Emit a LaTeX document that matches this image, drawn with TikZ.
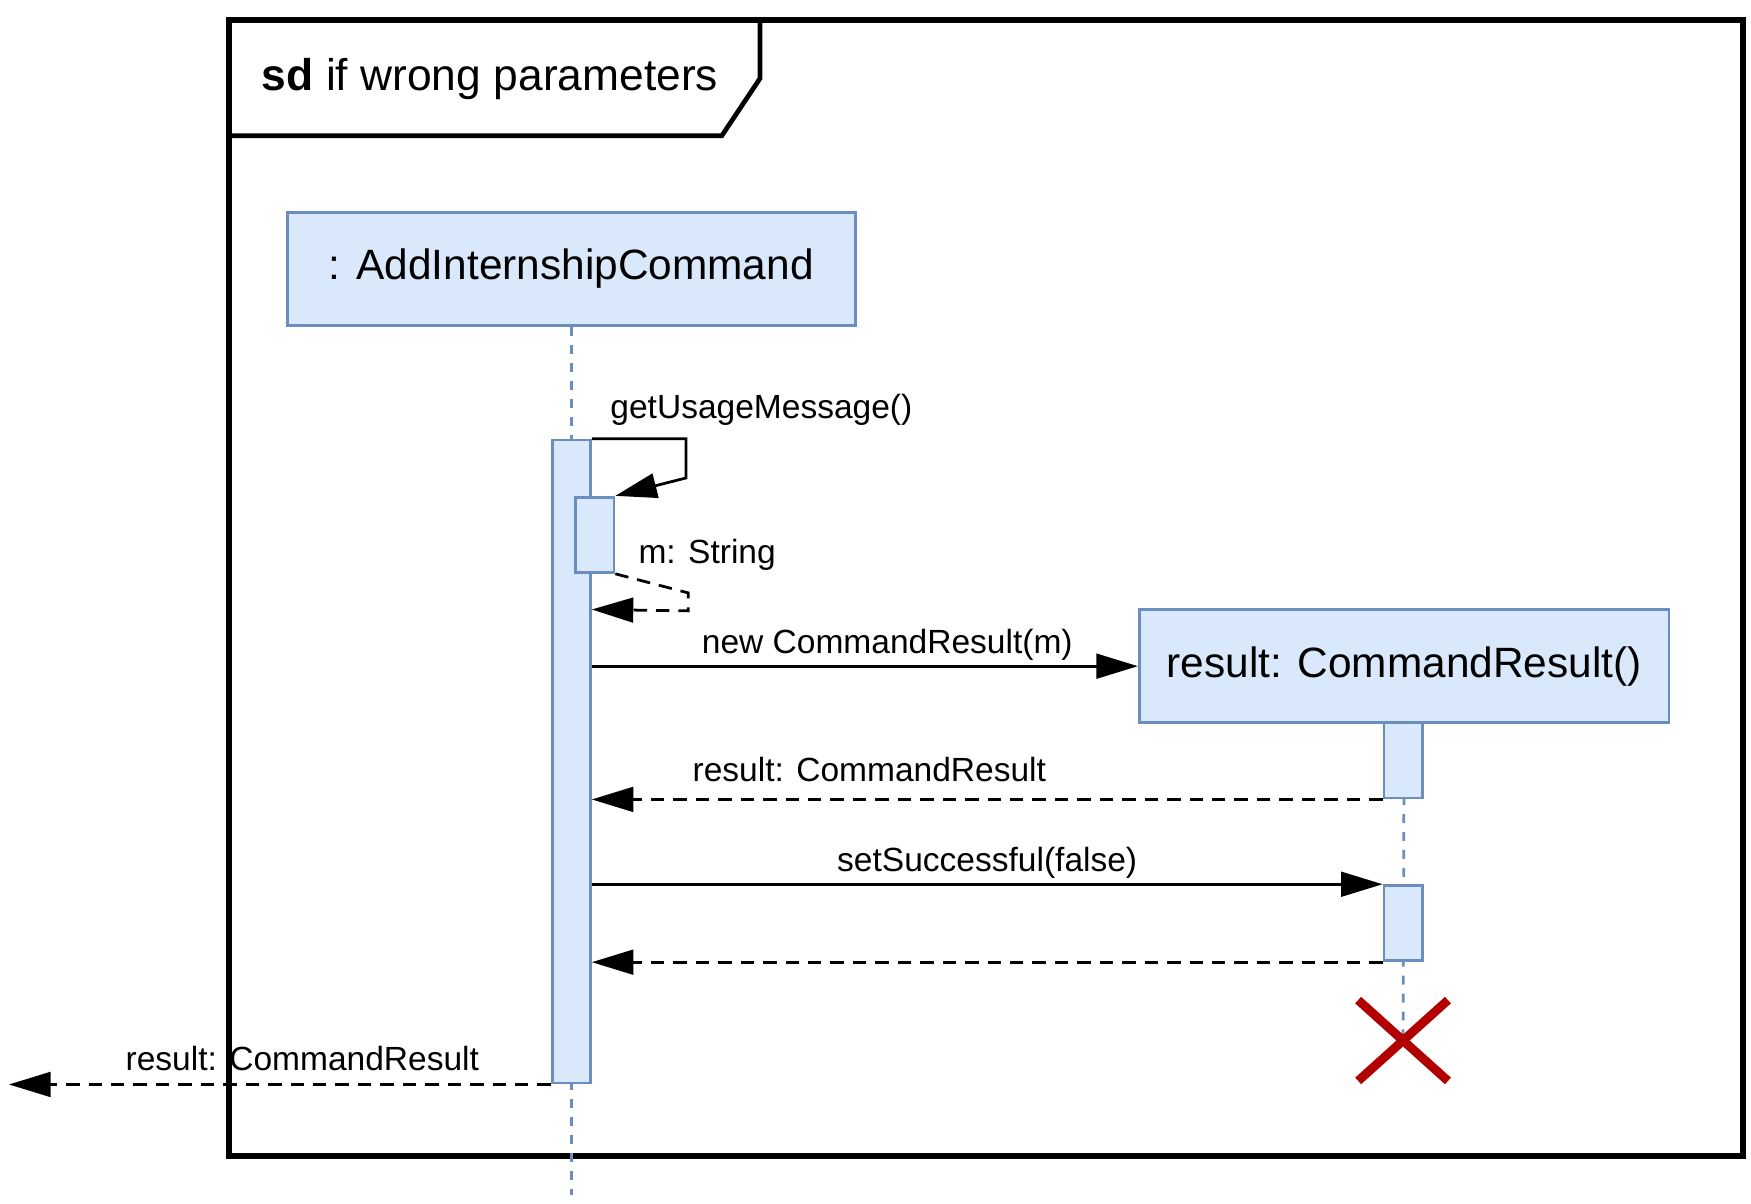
\documentclass[tikz,border=0pt]{standalone}
\usepackage{fontspec}
\setmainfont{Liberation Sans}
\usetikzlibrary{arrows.meta,calc}
\definecolor{boxfill}{HTML}{DAE8FC}
\definecolor{boxline}{HTML}{6C8EBF}
\definecolor{xred}{HTML}{B20000}
\tikzset{
	obj/.style={draw=boxline, fill=boxfill, line width=1.4pt, minimum width=#1, minimum height=2.02cm, inner sep=0pt, font=\fontsize{21.5}{25}\selectfont},
	act/.style={draw=boxline, fill=boxfill, line width=1.4pt, minimum width=0.68cm, minimum height=#1, inner sep=0pt},
	life/.style={draw=boxline, line width=1.4pt, dash pattern=on 0.16cm off 0.16cm},
	msg/.style={line width=1.4pt, -{Triangle[length=0.74cm,width=0.44cm]}},
	ret/.style={msg, dash pattern=on 0.24cm off 0.16cm},
	lbl/.style={font=\fontsize{17}{20}\selectfont, inner sep=2pt}
}
\begin{document}
\begin{tikzpicture}[x=0.02cm, y=-0.02cm]
		\useasboundingbox (0,0) rectangle (1560,1072);
		% Frame
		\draw[line width=2.8pt] (204,18) rectangle (1553,1030);
		\draw[line width=2.4pt] (204,18) -- (677,18) -- (677,70) -- (643,121) -- (204,121);
		\node[anchor=west, font=\fontsize{22.5}{26}\selectfont, inner sep=0pt] (title) at (233,70) {\textbf{sd} if wrong parameters};
		
		% Objects and lifelines
		\node[obj=10.12cm] (cmd) at (509,239.5) {: AddInternshipCommand};
		\coordinate (cmdend) at (509,1065);
		\draw[life] (cmd.south) -- (cmdend);
		\node[act=11.46cm] (main) at (509,678.5) {};
		\node[act=1.34cm] (nest) at (530,476.5) {};
		
		\node[obj=9.44cm] (res) at (1251,593.5) {result: CommandResult()};
		\node (kill) at (1250,927) {};
		\draw[life] (res.south) -- (kill.center);
		\node[act=1.34cm] (resA) at (1250,677.5) {};
		\node[act=1.34cm] (resB) at (1250,822.5) {};
		
		% Destruction
		\draw[xred, line width=4.5pt] ($(kill)+(-40,-36)$) -- ($(kill)+(40,36)$) ($(kill)+(-40,36)$) -- ($(kill)+(40,-36)$);
		
		% Self call
		\draw[msg] (main.north east) -- ++(84,0) -- ++(0,35) -- (nest.north east);
		\node[lbl, anchor=south west] (l1) at (540,383) {getUsageMessage()};
		\draw[ret] (nest.south east) -- ++(65,17) -- ++(0,16) -- (main.east |- 0,543);
		\node[lbl, anchor=south west] (l2) at (565,512) {m: String};
		
		% Messages
		\draw[msg] (main.east |- res.west) -- (res.west) node[lbl, midway, above, xshift=0.4cm] {new CommandResult(m)};
		\draw[ret] (resA.south west) -- (main.east |- resA.south) node[lbl, midway, above=6pt, xshift=-2.1cm] {result: CommandResult};
		\draw[msg] (main.east |- resB.north) -- (resB.north west) node[lbl, midway, above] {setSuccessful(false)};
		\draw[ret] (resB.south west) -- (main.east |- resB.south);
		
		% Final return
		\coordinate (out) at (8,964);
		\draw[ret] (main.south west) -- (main.south west -| out) node[lbl, midway, above=4pt, xshift=0.4cm] {result: CommandResult};
\end{tikzpicture}
\end{document}
